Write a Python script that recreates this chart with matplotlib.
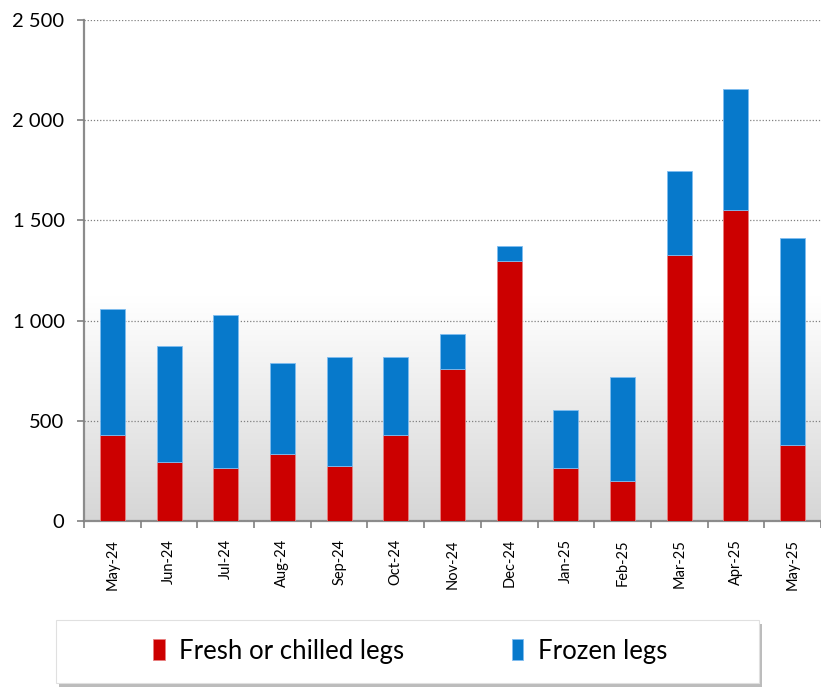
import numpy as np
import matplotlib.pyplot as plt
from matplotlib.patches import Rectangle
from matplotlib.ticker import FuncFormatter, MultipleLocator
from matplotlib.colors import LinearSegmentedColormap

months = ['May-24', 'Jun-24', 'Jul-24', 'Aug-24', 'Sep-24', 'Oct-24', 'Nov-24',
          'Dec-24', 'Jan-25', 'Feb-25', 'Mar-25', 'Apr-25', 'May-25']
fresh = [427, 294, 263, 332, 272, 427, 759, 1296, 263, 198, 1327, 1552, 379]
total = [1058, 874, 1027, 790, 819, 819, 931, 1370, 552, 721, 1748, 2158, 1413]
frozen = [t - f for t, f in zip(total, fresh)]

red = '#cc0000'
blue = '#0779cb'

plt.rcParams['font.family'] = ['Lato', 'DejaVu Sans']

fig = plt.figure(figsize=(8.21, 6.88), dpi=100)
ax = fig.add_axes([84/821, 1 - 521/688, 1 - 84/821, (521 - 20)/688])

# background gradient: white at top, light grey toward the baseline
ymax = 2500
grad = np.linspace(0, ymax, 400)
vals = np.clip((1120 - grad) / 1120, 0, 1)
cmap = LinearSegmentedColormap.from_list('bg', ['#ffffff', '#d6d6d6'])
ax.imshow(vals[:, None], cmap=cmap, aspect='auto', origin='lower',
          extent=(-0.5, 12.5, 0, ymax), zorder=0, vmin=0, vmax=1)

x = np.arange(len(months))
w = 0.44
ax.bar(x, fresh, w, color=red, edgecolor='#e88080', linewidth=0.6, zorder=3,
       label='Fresh or chilled legs')
ax.bar(x, frozen, w, bottom=fresh, color=blue, edgecolor='#7fbdf0', linewidth=0.6,
       zorder=3, label='Frozen legs')

ax.set_xlim(-0.5, 12.5)
ax.set_ylim(0, ymax)
ax.yaxis.set_major_locator(MultipleLocator(500))
ax.yaxis.set_major_formatter(FuncFormatter(lambda v, p: f'{int(v):,}'.replace(',', ' ')))
ax.grid(axis='y', linestyle=(0, (1, 1.5)), color='#808080', linewidth=0.9, zorder=1)
ax.set_axisbelow(False)

ax.set_xticks(x)
ax.set_xticklabels(months, rotation=90, fontsize=10.5)
ax.set_xticks(np.arange(-0.5, 12.6, 1), minor=True)
ax.tick_params(axis='x', which='major', length=0, pad=13)
ax.tick_params(axis='x', which='minor', length=5, color='#808080', width=1.2)
ax.tick_params(axis='y', length=5, color='#808080', width=1.2, labelsize=14.5, pad=9)

for s in ['top', 'right']:
    ax.spines[s].set_visible(False)
for s in ['left', 'bottom']:
    ax.spines[s].set_color('#8c8c8c')
    ax.spines[s].set_linewidth(1.6)

# legend box with shadow
bx, by, bw, bh = 56/821, 1 - 683/688, (759 - 56)/821, (683 - 620)/688
fig.patches.append(Rectangle((bx + 3/821, by - 4/688), bw, bh, transform=fig.transFigure,
                             facecolor='#909090', edgecolor='none', alpha=0.6, zorder=0))
fig.patches.append(Rectangle((bx, by), bw, bh, transform=fig.transFigure,
                             facecolor='white', edgecolor='#e0e0e0', linewidth=0.8, zorder=1))
handles, labels = ax.get_legend_handles_labels()
fig.legend(handles, labels, loc='center', bbox_to_anchor=(0.4995, 1 - 651/688), ncol=2,
           frameon=False, fontsize=18.5, handlelength=0.45, handleheight=0.9,
           handletextpad=0.55, columnspacing=4.2)

fig.savefig('out.png', dpi=100)
